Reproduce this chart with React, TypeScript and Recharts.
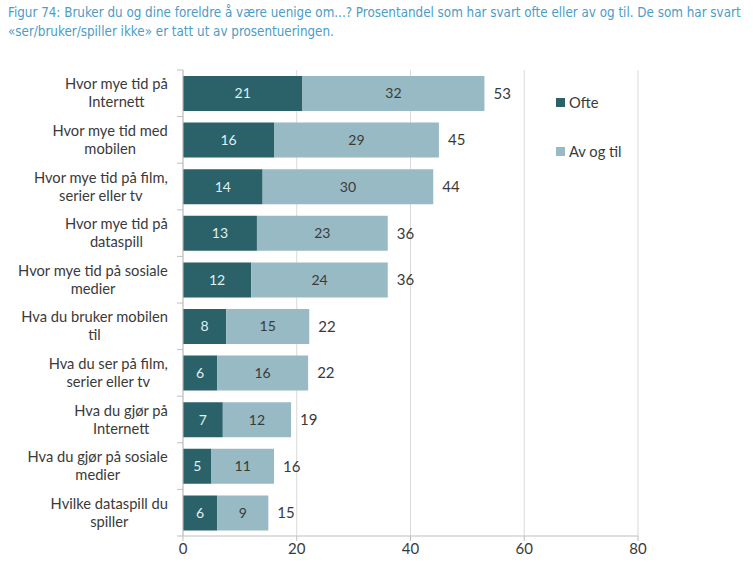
import React from "react";
import {
  BarChart,
  Bar,
  XAxis,
  YAxis,
  CartesianGrid,
  LabelList,
} from "recharts";

const categories = [
  ["Hvor mye tid på", "Internett"],
  ["Hvor mye tid med", "mobilen"],
  ["Hvor mye tid på film,", "serier eller tv"],
  ["Hvor mye tid på", "dataspill"],
  ["Hvor mye tid på sosiale", "medier"],
  ["Hva du bruker mobilen", "til"],
  ["Hva du ser på film,", "serier eller tv"],
  ["Hva du gjør på", "Internett"],
  ["Hva du gjør på sosiale", "medier"],
  ["Hvilke dataspill du", "spiller"],
];
const ofte = [21, 16, 14, 13, 12, 7.6, 6, 7, 5, 6];
const avOgTil = [32, 29, 30, 23, 24, 14.6, 16, 12, 11, 9];
const totals = [53, 45, 44, 36, 36, 22, 22, 19, 16, 15];
const xTicks = [0, 20, 40, 60, 80];

const DARK = "#2b6168";
const LIGHT = "#98bac4";
const TEXT = "#3a3a3a";
const FONT = "Lato, 'Open Sans', sans-serif";
const LABEL_SIZE = 14.7;

const data = categories.map((c, i) => ({
  name: c.join("\n"),
  ofte: ofte[i],
  avOgTil: avOgTil[i],
  total: totals[i],
}));

let ctx: CanvasRenderingContext2D | null = null;
function textWidth(s: string) {
  if (!ctx) ctx = document.createElement("canvas").getContext("2d");
  if (!ctx) return s.length * 7;
  ctx.font = `${LABEL_SIZE}px Lato`;
  return ctx.measureText(s).width;
}

const BAND = 46.6;

const CategoryTick = (props: any) => {
  const { y, payload, index } = props;
  const lines = String(payload.value).split("\n");
  const maxW = Math.max(...lines.map(textWidth));
  const cx = 168 - maxW / 2;
  return (
    <g>
      <line x1={177} x2={183} y1={y - BAND / 2} y2={y - BAND / 2} stroke="#bfbfbf" />
      {index === categories.length - 1 && (
        <line x1={177} x2={183} y1={y + BAND / 2} y2={y + BAND / 2} stroke="#bfbfbf" />
      )}
      <text
        x={cx}
        y={y}
        textAnchor="middle"
        fill={TEXT}
        fontSize={LABEL_SIZE}
        fontFamily={FONT}
      >
        {lines.map((l: string, i: number) => (
          <tspan key={i} x={cx} dy={i === 0 ? -4 : 18}>
            {l}
          </tspan>
        ))}
      </text>
    </g>
  );
};

const legendItems = [
  { label: "Ofte", color: DARK },
  { label: "Av og til", color: LIGHT },
];

export default function App() {
  return (
    <div
      style={{
        position: "absolute",
        top: 0,
        left: 0,
        width: 753,
        height: 571,
        background: "#fff",
        overflow: "hidden",
      }}
    >
      <div
        style={{
          position: "absolute",
          left: 8,
          top: 3,
          width: 745,
          fontFamily: "'DejaVu Sans Condensed', 'Liberation Sans Narrow', Roboto, sans-serif",
          fontSize: 13.3,
          lineHeight: "19px",
          whiteSpace: "nowrap",
          color: "#4d9cc4",
        }}
      >
        Figur 74: Bruker du og dine foreldre å være uenige om...? Prosentandel som har svart ofte eller av og til. De som har svart
        <br />
        «ser/bruker/spiller ikke» er tatt ut av prosentueringen.
      </div>
      <div style={{ position: "absolute", left: 0, top: 45 }}>
        <BarChart
          width={753}
          height={526}
          data={data}
          layout="vertical"
          margin={{ top: 25, right: 115, left: 0, bottom: 0 }}
          barSize={35}
        >
          <CartesianGrid horizontal={false} stroke="#d9d9d9" />
          <XAxis
            type="number"
            domain={[0, 80]}
            ticks={xTicks}
            height={35}
            stroke="#bfbfbf"
            tickSize={5}
            tick={{ fontSize: 15, fill: TEXT, fontFamily: FONT }}
          />
          <YAxis
            type="category"
            dataKey="name"
            width={183}
            stroke="#bfbfbf"
            tickLine={false}
            interval={0}
            tick={<CategoryTick />}
          />
          <Bar dataKey="ofte" stackId="a" fill={DARK} isAnimationActive={false}>
            <LabelList
              dataKey="ofte"
              position="center"
              formatter={(v: any) => Math.round(Number(v))}
              style={{ fill: "#dff0f2", fontSize: 14, fontFamily: FONT }}
            />
          </Bar>
          <Bar dataKey="avOgTil" stackId="a" fill={LIGHT} isAnimationActive={false}>
            <LabelList
              dataKey="avOgTil"
              position="center"
              formatter={(v: any) => Math.round(Number(v))}
              style={{ fill: TEXT, fontSize: 14, fontFamily: FONT }}
            />
            <LabelList
              dataKey="total"
              position="right"
              offset={9}
              style={{ fill: TEXT, fontSize: 15, fontFamily: FONT }}
            />
          </Bar>
        </BarChart>
      </div>
      <div
        style={{
          position: "absolute",
          left: 556,
          top: 91,
          fontFamily: FONT,
          fontSize: 14.7,
          color: TEXT,
        }}
      >
        {legendItems.map((it, i) => (
          <div
            key={it.label}
            style={{
              display: "flex",
              alignItems: "center",
              height: 22,
              marginBottom: i === 0 ? 27 : 0,
            }}
          >
            <span
              style={{
                display: "inline-block",
                width: 9,
                height: 9,
                background: it.color,
                marginRight: 4,
              }}
            />
            {it.label}
          </div>
        ))}
      </div>
    </div>
  );
}
